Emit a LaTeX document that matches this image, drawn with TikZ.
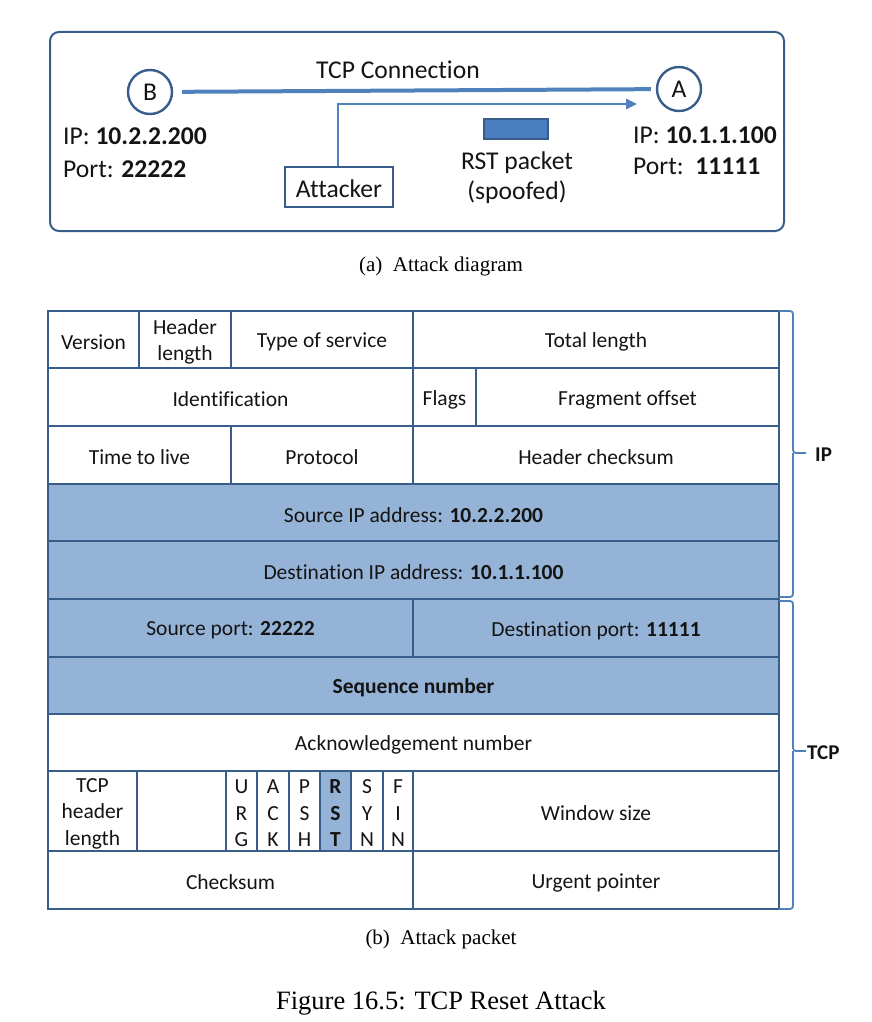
\documentclass[tikz,border=0pt]{standalone}
\usepackage{fontspec}
\setmainfont{Carlito}[Ligatures=NoCommon]
\newfontfamily\capfont{Liberation Serif}
\usetikzlibrary{arrows.meta}
\definecolor{bordc}{HTML}{385D8A}
\definecolor{linec}{HTML}{4F81BD}
\definecolor{fillc}{HTML}{95B3D7}
\definecolor{pktc}{HTML}{4A7CC0}
\definecolor{txtc}{HTML}{141414}
\tikzset{
  cell/.style={draw=bordc, line width=2.4pt, rectangle, inner sep=0pt, outer sep=0pt},
  celltext/.style={inner sep=0pt, font=\fontsize{21.5}{26.5}\selectfont, text=txtc, align=center},
  hot/.style={fill=fillc},
  big/.style={font=\fontsize{25.6}{30}\selectfont, text=txtc},
  host/.style={circle, draw=bordc, line width=2.4pt, minimum size=44pt, inner sep=0pt, big},
  conn/.style={draw=linec, line width=4pt},
  attarrow/.style={draw=linec, line width=2.6pt, -{Triangle[length=11pt,width=10pt]}},
  brace/.style={draw=linec, line width=1.8pt, rounded corners=3pt},
  capt/.style={font=\capfont\fontsize{21}{24}\selectfont, text=black},
}
\newcommand\pcell[7][]{%
  \node[cell,#1,minimum width={(#5-#3)*1pt},minimum height={(#6-#4)*1pt}]
    (#2) at ({(#3+#5)/2},{(#4+#6)/2}) {};
  \node[celltext] (#2-t) at ([yshift=-2.5pt]#2.center) {#7};}
\begin{document}
\begin{tikzpicture}[x=1pt,y=-1pt]
\useasboundingbox (0,0) rectangle (872,1022);
% ---------- (a) attack diagram ----------
\draw[bordc, line width=2pt, rounded corners=9pt] (50,32) rectangle (784,231);
\node[host] (B) at (150,92) {B};
\node[host] (A) at (679,89) {A};
\draw[conn, shorten <=9pt, shorten >=5pt] (B) -- (A);
\node[big] (tcpc) at (398,70) {TCP Connection};
\node[big, anchor=west, inner sep=0pt] (bip) at (63,136) {IP: \textbf{10.2.2.200}};
\node[big, anchor=west, inner sep=0pt] (bport) at (63,169) {Port: \textbf{22222}};
\node[big, anchor=west, inner sep=0pt] (aip) at (633,135) {IP: \textbf{10.1.1.100}};
\node[big, anchor=west, inner sep=0pt] (aport) at (633,166) {Port:\ \ \textbf{11111}};
\node[draw=bordc, line width=2pt, minimum width=108pt, minimum height=40pt, inner sep=0pt] (att) at (339,187) {};
\node[big, inner sep=0pt] (attt) at ([yshift=-1.5pt]att.center) {Attacker};
\coordinate (tip) at (637,104);
\draw[attarrow] (att.north -| 338,0) |- (tip);
\node[draw=bordc, line width=1.6pt, fill=pktc, minimum width=64pt, minimum height=20pt, inner sep=0pt] (pkt) at (516,129) {};
\node[big] (rst1) at (517,163) {RST packet};
\node[big] (rst2) at (517,192) {(spoofed)};
\node[capt] (capa) at (441,266) {(a)\enspace Attack diagram};
% ---------- (b) attack packet ----------
\pcell{ver}{48}{311}{139}{368}{Version}
\pcell{hlen}{139}{311}{231}{368}{Header\\length}
\pcell{tos}{231}{311}{413}{368}{Type of service}
\pcell{tlen}{413}{311}{779}{368}{Total length}
\pcell{ident}{48}{368}{413}{426}{Identification}
\pcell{flags}{413}{368}{476}{426}{Flags}
\pcell{frag}{476}{368}{779}{426}{Fragment offset}
\pcell{ttl}{48}{426}{231}{484}{Time to live}
\pcell{proto}{231}{426}{413}{484}{Protocol}
\pcell{hcs}{413}{426}{779}{484}{Header checksum}
\pcell[hot]{sip}{48}{484}{779}{541}{Source IP address: \textbf{10.2.2.200}}
\pcell[hot]{dip}{48}{541}{779}{599}{Destination IP address: \textbf{10.1.1.100}}
\pcell[hot]{sport}{48}{599}{413}{657}{Source port: \textbf{22222}}
\pcell[hot]{dport}{413}{599}{779}{657}{Destination port: \textbf{11111}}
\pcell[hot]{seq}{48}{657}{779}{714}{\textbf{Sequence number}}
\pcell{ack}{48}{714}{779}{771}{Acknowledgement number}
\pcell{thl}{48}{771}{137}{851}{TCP\\header\\length}
\pcell{resv}{137}{771}{226}{851}{}
\pcell{furg}{226}{771}{257}{851}{U\\R\\G}
\pcell{fack}{257}{771}{289}{851}{A\\C\\K}
\pcell{fpsh}{289}{771}{320}{851}{P\\S\\H}
\pcell[hot]{frst}{320}{771}{351}{851}{\textbf{R}\\\textbf{S}\\\textbf{T}}
\pcell{fsyn}{351}{771}{383}{851}{S\\Y\\N}
\pcell{ffin}{383}{771}{413}{851}{F\\I\\N}
\pcell{win}{413}{771}{779}{851}{Window size}
\pcell{csum}{48}{851}{413}{909}{Checksum}
\pcell{urg}{413}{851}{779}{909}{Urgent pointer}
% braces
\coordinate (ipmid) at (806,453);
\coordinate (tcpmid) at (806,751);
\draw[brace] (tlen.north east) -- (793,311) -- (793,453) -- (ipmid);
\draw[brace] (dip.south east) ++(0,-2) -- (793,597) -- (793,453);
\draw[brace] (sport.north -| dport.east) ++(0,2) -- (793,601) -- (793,751) -- (tcpmid);
\draw[brace] (urg.south east) -- (793,909) -- (793,751);
\node[font=\fontsize{21}{24}\selectfont\bfseries, text=txtc, anchor=west, inner sep=0pt] (iplab) at (815,455) {IP};
\node[font=\fontsize{21}{24}\selectfont\bfseries, text=txtc, anchor=west, inner sep=0pt] (tcplab) at (807,753) {TCP};
\node[capt] (capb) at (441,939) {(b)\enspace Attack packet};
\node[capt, font=\capfont\fontsize{26.5}{30}\selectfont] (capf) at (441,1003) {Figure 16.5: TCP Reset Attack};
\end{tikzpicture}
\end{document}
